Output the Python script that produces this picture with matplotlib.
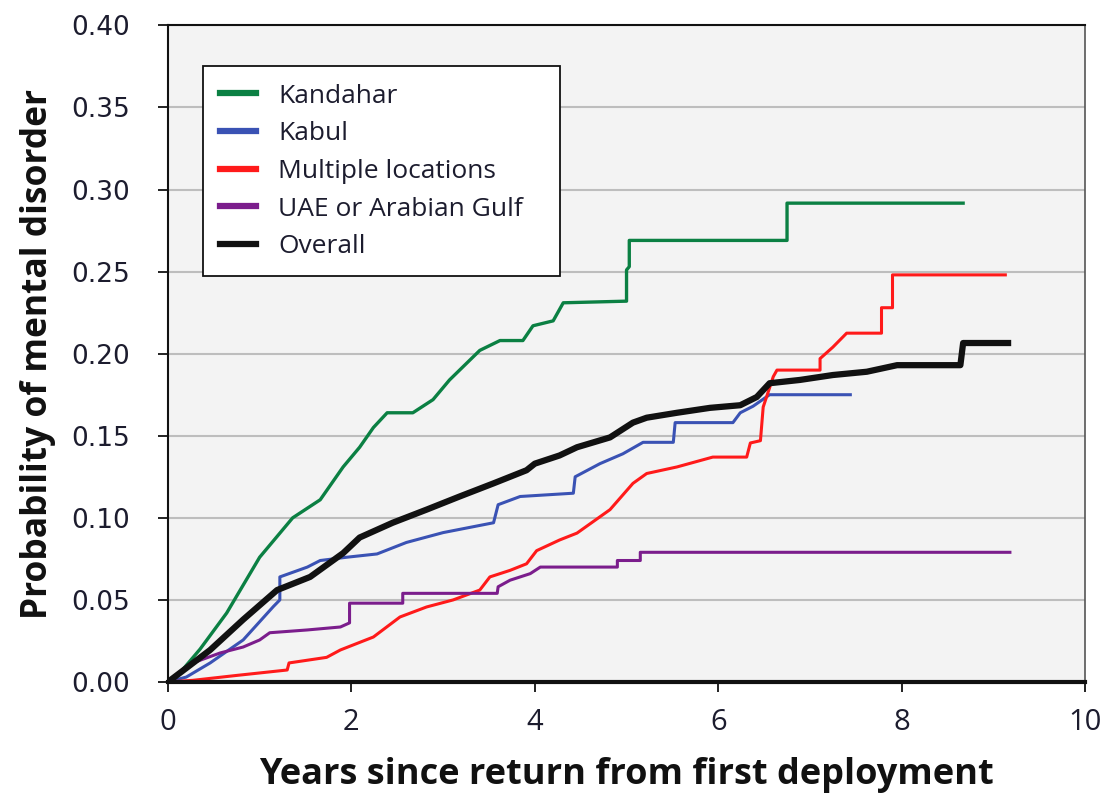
import matplotlib
matplotlib.use("Agg")
import matplotlib.pyplot as plt

plt.rcParams['font.family'] = ['Open Sans', 'DejaVu Sans']

# Data (years, probability)
kandahar_x = [0, 0.13, 0.35, 0.64, 1.0, 1.36, 1.66, 1.91, 2.09, 2.24, 2.39, 2.67, 2.89, 3.07, 3.4, 3.62, 3.87, 3.98, 4.2, 4.31, 5.0, 5.0, 5.03, 5.03, 6.75, 6.75, 8.67]
kandahar_y = [0, 0.0055, 0.02, 0.042, 0.076, 0.10, 0.111, 0.131, 0.143, 0.155, 0.164, 0.164, 0.172, 0.184, 0.202, 0.208, 0.208, 0.217, 0.22, 0.231, 0.232, 0.251, 0.253, 0.269, 0.269, 0.2917, 0.2917]

kabul_x = [0, 0.2, 0.46, 0.82, 1.15, 1.22, 1.22, 1.52, 1.66, 1.95, 2.28, 2.6, 3.0, 3.55, 3.6, 3.84, 4.42, 4.44, 4.71, 4.96, 5.18, 5.51, 5.53, 6.16, 6.24, 6.38, 6.56, 7.44]
kabul_y = [0, 0.003, 0.0116, 0.0256, 0.046, 0.05, 0.064, 0.07, 0.074, 0.076, 0.078, 0.085, 0.091, 0.097, 0.108, 0.113, 0.115, 0.125, 0.133, 0.139, 0.146, 0.146, 0.158, 0.158, 0.164, 0.168, 0.175, 0.175]

multiple_x = [0, 0.27, 0.75, 1.3, 1.32, 1.73, 1.88, 2.24, 2.53, 2.82, 3.11, 3.4, 3.51, 3.73, 3.91, 4.02, 4.27, 4.46, 4.82, 5.07, 5.22, 5.55, 5.94, 6.31, 6.35, 6.46, 6.49, 6.6, 6.64, 7.11, 7.11, 7.25, 7.4, 7.78, 7.78, 7.9, 7.9, 9.13]
multiple_y = [0, 0.001, 0.004, 0.0073, 0.0116, 0.015, 0.0195, 0.0274, 0.0396, 0.0457, 0.05, 0.056, 0.064, 0.068, 0.072, 0.08, 0.0865, 0.0907, 0.105, 0.121, 0.127, 0.131, 0.137, 0.137, 0.1456, 0.147, 0.1675, 0.186, 0.19, 0.19, 0.197, 0.204, 0.2125, 0.2125, 0.228, 0.228, 0.248, 0.248]

uae_x = [0, 0.27, 0.57, 0.82, 1.0, 1.11, 1.52, 1.88, 1.98, 1.98, 2.56, 2.56, 3.59, 3.6, 3.73, 3.95, 4.06, 4.9, 4.9, 5.15, 5.15, 9.18]
uae_y = [0, 0.0116, 0.0177, 0.0213, 0.0256, 0.03, 0.0317, 0.0335, 0.036, 0.048, 0.048, 0.054, 0.054, 0.058, 0.062, 0.066, 0.070, 0.070, 0.074, 0.074, 0.079, 0.079]

overall_x = [0, 0.13, 0.46, 0.82, 1.19, 1.55, 1.91, 2.09, 2.45, 2.82, 3.18, 3.55, 3.91, 4.0, 4.27, 4.46, 4.82, 5.07, 5.22, 5.55, 5.91, 6.24, 6.42, 6.56, 6.89, 7.25, 7.62, 7.95, 8.64, 8.67, 9.16]
overall_y = [0, 0.0055, 0.0195, 0.038, 0.056, 0.064, 0.0785, 0.088, 0.097, 0.105, 0.113, 0.121, 0.129, 0.133, 0.138, 0.143, 0.149, 0.158, 0.161, 0.164, 0.167, 0.1686, 0.1736, 0.182, 0.184, 0.187, 0.189, 0.193, 0.193, 0.2065, 0.2065]

x_ticks = [0, 2, 4, 6, 8, 10]
y_ticks = [0.00, 0.05, 0.10, 0.15, 0.20, 0.25, 0.30, 0.35, 0.40]

txt = '#1c1c2e'

fig = plt.figure(figsize=(11.05, 7.93), dpi=100)
ax = fig.add_axes([0.152, 0.14, 0.830, 0.828])
ax.set_facecolor('#f3f3f3')

ax.plot(kandahar_x, kandahar_y, color='#0b8043', lw=2.4, label='Kandahar')
ax.plot(kabul_x, kabul_y, color='#3a52b4', lw=2.2, label='Kabul')
ax.plot(multiple_x, multiple_y, color='#ff1a1a', lw=2.2, label='Multiple locations')
ax.plot(uae_x, uae_y, color='#7b1d8c', lw=2.2, label='UAE or Arabian Gulf')
ax.plot(overall_x, overall_y, color='#111111', lw=4.5, label='Overall')

ax.set_xlim(0, 10)
ax.set_ylim(0, 0.40)
ax.set_xticks(x_ticks)
ax.set_xticklabels([str(v) for v in x_ticks])
ax.set_yticks(y_ticks)
ax.set_yticklabels([f'{v:.2f}' for v in y_ticks])
ax.yaxis.grid(True, color='#bdbdbd', lw=1.5)
ax.set_axisbelow(True)

for s in ['left', 'top']:
    ax.spines[s].set_color('#111111')
    ax.spines[s].set_linewidth(1.5)
ax.spines['bottom'].set_color('#111111')
ax.spines['bottom'].set_linewidth(3)
ax.spines['right'].set_color('#555555')
ax.spines['right'].set_linewidth(1.2)

ax.tick_params(axis='both', direction='out', length=7, width=1.3, colors='#111111',
               labelcolor=txt)
ax.tick_params(axis='y', labelsize=19, pad=20)
ax.tick_params(axis='x', labelsize=21, pad=12)
for lab in ax.get_yticklabels():
    lab.set_family(['DejaVu Sans'])
for lab in ax.get_xticklabels():
    lab.set_family(['Liberation Sans Narrow', 'Open Sans'])

ax.set_xlabel('Years since return from first deployment', fontsize=26, fontweight='bold',
              color='#111111', labelpad=14)
ax.set_ylabel('Probability of mental disorder', fontsize=25.5, fontweight='bold',
              color='#111111', labelpad=11)

leg = ax.legend(loc='upper left', bbox_to_anchor=(0.038, 0.0, 0.3895, 0.9376), mode='expand',
                fontsize=19, frameon=True, fancybox=False, handlelength=1.35,
                handletextpad=0.85, labelspacing=0.48, borderpad=0.65, borderaxespad=0)
leg.get_frame().set_edgecolor('#111111')
leg.get_frame().set_linewidth(1.3)
leg.get_frame().set_facecolor('white')
leg.get_frame().set_alpha(1)
for t in leg.get_texts():
    t.set_color(txt)
for h in leg.get_lines():
    h.set_linewidth(4.5)

fig.savefig('out.png', dpi=100)
